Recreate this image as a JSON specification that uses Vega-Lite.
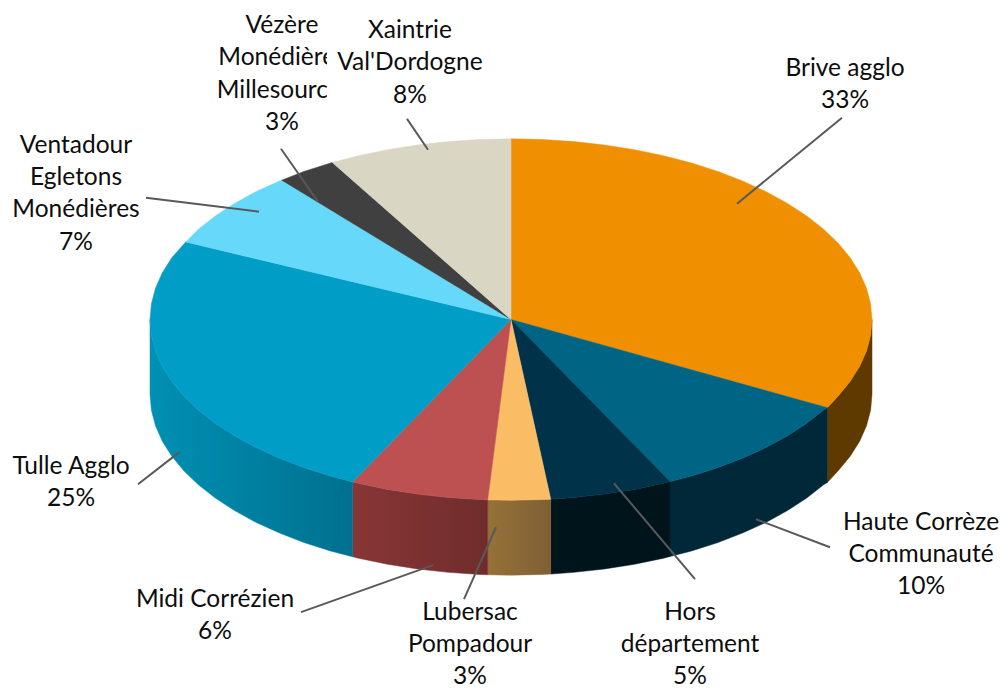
{"$schema":"https://vega.github.io/schema/vega-lite/v6.json","width":1003,"height":688,"padding":0,"autosize":{"type":"fit","contains":"padding"},"background":"white","config":{"view":{"stroke":null}},
"datasets":{
"side":[
{"s":"Brive agglo","x":872,"y":320,"y2":395},{"s":"Brive agglo","x":870.6,"y":335.8,"y2":410.8},{"s":"Brive agglo","x":866.5,"y":351.4,"y2":426.4},{"s":"Brive agglo","x":859.7,"y":366.8,"y2":441.8},{"s":"Brive agglo","x":850.2,"y":381.9,"y2":456.9},{"s":"Brive agglo","x":838.2,"y":396.5,"y2":471.5},{"s":"Brive agglo","x":827.3,"y":408.3,"y2":483.3},
{"s":"Haute","x":827.3,"y":408.3,"y2":483.3},{"s":"Haute","x":823.6,"y":410.5,"y2":485.5},{"s":"Haute","x":806.7,"y":423.8,"y2":498.8},{"s":"Haute","x":787.5,"y":436.3,"y2":511.3},{"s":"Haute","x":766.3,"y":448,"y2":523},{"s":"Haute","x":743,"y":458.6,"y2":533.6},{"s":"Haute","x":718.1,"y":468.3,"y2":543.3},{"s":"Haute","x":691.5,"y":476.8,"y2":551.8},{"s":"Haute","x":670,"y":482.3,"y2":557.3},
{"s":"Hors","x":670,"y":482.3,"y2":557.3},{"s":"Hors","x":663.6,"y":484,"y2":559},{"s":"Hors","x":634.5,"y":490.1,"y2":565.1},{"s":"Hors","x":604.4,"y":494.8,"y2":569.8},{"s":"Hors","x":573.7,"y":498.2,"y2":573.2},{"s":"Hors","x":550.7,"y":499.9,"y2":574.9},
{"s":"Lubersac","x":550.7,"y":499.9,"y2":574.9},{"s":"Lubersac","x":542.5,"y":500.3,"y2":575.3},{"s":"Lubersac","x":511,"y":501,"y2":576},{"s":"Lubersac","x":487.7,"y":500.6,"y2":575.6},
{"s":"Midi","x":487.7,"y":500.6,"y2":575.6},{"s":"Midi","x":479.5,"y":500.3,"y2":575.3},{"s":"Midi","x":448.3,"y":498.2,"y2":573.2},{"s":"Midi","x":417.6,"y":494.8,"y2":569.8},{"s":"Midi","x":387.5,"y":490.1,"y2":565.1},{"s":"Midi","x":358.4,"y":484,"y2":559},{"s":"Midi","x":352.7,"y":482.6,"y2":557.6},
{"s":"Tulle","x":352.7,"y":482.6,"y2":557.6},{"s":"Tulle","x":330.5,"y":476.8,"y2":551.8},{"s":"Tulle","x":303.9,"y":468.3,"y2":543.3},{"s":"Tulle","x":279,"y":458.6,"y2":533.6},{"s":"Tulle","x":255.7,"y":448,"y2":523},{"s":"Tulle","x":234.5,"y":436.3,"y2":511.3},{"s":"Tulle","x":215.3,"y":423.8,"y2":498.8},{"s":"Tulle","x":198.4,"y":410.5,"y2":485.5},{"s":"Tulle","x":183.8,"y":396.5,"y2":471.5},{"s":"Tulle","x":171.8,"y":381.9,"y2":456.9},{"s":"Tulle","x":162.3,"y":366.8,"y2":441.8},{"s":"Tulle","x":155.5,"y":351.4,"y2":426.4},{"s":"Tulle","x":151.4,"y":335.8,"y2":410.8},{"s":"Tulle","x":150,"y":320,"y2":395}
],
"top":[
{"s":"Brive agglo","i":0,"x":511,"y":320},{"s":"Brive agglo","i":1,"x":511,"y":139},{"s":"Brive agglo","i":2,"x":542.5,"y":139.7},{"s":"Brive agglo","i":3,"x":573.7,"y":141.8},{"s":"Brive agglo","i":4,"x":604.4,"y":145.2},{"s":"Brive agglo","i":5,"x":634.5,"y":149.9},{"s":"Brive agglo","i":6,"x":663.6,"y":156},{"s":"Brive agglo","i":7,"x":691.5,"y":163.2},{"s":"Brive agglo","i":8,"x":718.1,"y":171.7},{"s":"Brive agglo","i":9,"x":743,"y":181.4},{"s":"Brive agglo","i":10,"x":766.3,"y":192},{"s":"Brive agglo","i":11,"x":787.5,"y":203.7},{"s":"Brive agglo","i":12,"x":806.7,"y":216.2},{"s":"Brive agglo","i":13,"x":823.6,"y":229.5},{"s":"Brive agglo","i":14,"x":838.2,"y":243.5},{"s":"Brive agglo","i":15,"x":850.2,"y":258.1},{"s":"Brive agglo","i":16,"x":859.7,"y":273.2},{"s":"Brive agglo","i":17,"x":866.5,"y":288.6},{"s":"Brive agglo","i":18,"x":870.6,"y":304.2},{"s":"Brive agglo","i":19,"x":872,"y":320},{"s":"Brive agglo","i":20,"x":870.6,"y":335.8},{"s":"Brive agglo","i":21,"x":866.5,"y":351.4},{"s":"Brive agglo","i":22,"x":859.7,"y":366.8},{"s":"Brive agglo","i":23,"x":850.2,"y":381.9},{"s":"Brive agglo","i":24,"x":838.2,"y":396.5},{"s":"Brive agglo","i":25,"x":827.3,"y":408.3},
{"s":"Haute","i":0,"x":511,"y":320},{"s":"Haute","i":1,"x":827.3,"y":408.3},{"s":"Haute","i":2,"x":823.6,"y":410.5},{"s":"Haute","i":3,"x":806.7,"y":423.8},{"s":"Haute","i":4,"x":787.5,"y":436.3},{"s":"Haute","i":5,"x":766.3,"y":448},{"s":"Haute","i":6,"x":743,"y":458.6},{"s":"Haute","i":7,"x":718.1,"y":468.3},{"s":"Haute","i":8,"x":691.5,"y":476.8},{"s":"Haute","i":9,"x":670,"y":482.3},
{"s":"Hors","i":0,"x":511,"y":320},{"s":"Hors","i":1,"x":670,"y":482.3},{"s":"Hors","i":2,"x":663.6,"y":484},{"s":"Hors","i":3,"x":634.5,"y":490.1},{"s":"Hors","i":4,"x":604.4,"y":494.8},{"s":"Hors","i":5,"x":573.7,"y":498.2},{"s":"Hors","i":6,"x":550.7,"y":499.9},
{"s":"Lubersac","i":0,"x":511,"y":320},{"s":"Lubersac","i":1,"x":550.7,"y":499.9},{"s":"Lubersac","i":2,"x":542.5,"y":500.3},{"s":"Lubersac","i":3,"x":511,"y":501},{"s":"Lubersac","i":4,"x":487.7,"y":500.6},
{"s":"Midi","i":0,"x":511,"y":320},{"s":"Midi","i":1,"x":487.7,"y":500.6},{"s":"Midi","i":2,"x":479.5,"y":500.3},{"s":"Midi","i":3,"x":448.3,"y":498.2},{"s":"Midi","i":4,"x":417.6,"y":494.8},{"s":"Midi","i":5,"x":387.5,"y":490.1},{"s":"Midi","i":6,"x":358.4,"y":484},{"s":"Midi","i":7,"x":352.7,"y":482.6},
{"s":"Tulle","i":0,"x":511,"y":320},{"s":"Tulle","i":1,"x":352.7,"y":482.6},{"s":"Tulle","i":2,"x":330.5,"y":476.8},{"s":"Tulle","i":3,"x":303.9,"y":468.3},{"s":"Tulle","i":4,"x":279,"y":458.6},{"s":"Tulle","i":5,"x":255.7,"y":448},{"s":"Tulle","i":6,"x":234.5,"y":436.3},{"s":"Tulle","i":7,"x":215.3,"y":423.8},{"s":"Tulle","i":8,"x":198.4,"y":410.5},{"s":"Tulle","i":9,"x":183.8,"y":396.5},{"s":"Tulle","i":10,"x":171.8,"y":381.9},{"s":"Tulle","i":11,"x":162.3,"y":366.8},{"s":"Tulle","i":12,"x":155.5,"y":351.4},{"s":"Tulle","i":13,"x":151.4,"y":335.8},{"s":"Tulle","i":14,"x":150,"y":320},{"s":"Tulle","i":15,"x":151.4,"y":304.2},{"s":"Tulle","i":16,"x":155.5,"y":288.6},{"s":"Tulle","i":17,"x":162.3,"y":273.2},{"s":"Tulle","i":18,"x":171.8,"y":258.1},{"s":"Tulle","i":19,"x":185.7,"y":242.3},
{"s":"Ventadour","i":0,"x":511,"y":320},{"s":"Ventadour","i":1,"x":185.7,"y":242.3},{"s":"Ventadour","i":2,"x":198.4,"y":229.5},{"s":"Ventadour","i":3,"x":215.3,"y":216.2},{"s":"Ventadour","i":4,"x":234.5,"y":203.7},{"s":"Ventadour","i":5,"x":255.7,"y":192},{"s":"Ventadour","i":6,"x":279,"y":181.4},{"s":"Ventadour","i":7,"x":281.7,"y":180.4},
{"s":"Vezere","i":0,"x":511,"y":320},{"s":"Vezere","i":1,"x":281.7,"y":180.4},{"s":"Vezere","i":2,"x":303.9,"y":171.7},{"s":"Vezere","i":3,"x":332.3,"y":162.7},
{"s":"Xaintrie","i":0,"x":511,"y":320},{"s":"Xaintrie","i":1,"x":332.3,"y":162.7},{"s":"Xaintrie","i":2,"x":358.4,"y":156},{"s":"Xaintrie","i":3,"x":387.5,"y":149.9},{"s":"Xaintrie","i":4,"x":417.6,"y":145.2},{"s":"Xaintrie","i":5,"x":448.3,"y":141.8},{"s":"Xaintrie","i":6,"x":479.5,"y":139.7},{"s":"Xaintrie","i":7,"x":511,"y":139}
],
"leaders":[
{"s":"Brive agglo","x":737,"y":204,"x2":842,"y2":118},{"s":"Haute","x":756,"y":520,"x2":830,"y2":548},{"s":"Hors","x":614,"y":484,"x2":695,"y2":580},{"s":"Lubersac","x":496,"y":528,"x2":464,"y2":600},{"s":"Midi","x":433,"y":566,"x2":301,"y2":613},{"s":"Tulle","x":179,"y":453,"x2":138,"y2":485},{"s":"Ventadour","x":259,"y":212,"x2":146,"y2":198},{"s":"Vezere","x":318,"y":202,"x2":281,"y2":149},{"s":"Xaintrie","x":428,"y":150,"x2":407,"y2":119}
],
"mask":[{"x":327,"x2":365,"y":40,"y2":106}],
"labels":[
{"s":"Brive agglo","t":"Brive agglo","x":845,"y":68},{"s":"Brive agglo","t":"33%","x":845,"y":100},
{"s":"Haute","t":"Haute Corrèze","x":921,"y":522},{"s":"Haute","t":"Communauté","x":921,"y":554},{"s":"Haute","t":"10%","x":921,"y":586},
{"s":"Hors","t":"Hors","x":690,"y":612},{"s":"Hors","t":"département","x":690,"y":644},{"s":"Hors","t":"5%","x":690,"y":676},
{"s":"Lubersac","t":"Lubersac","x":470,"y":612},{"s":"Lubersac","t":"Pompadour","x":470,"y":644},{"s":"Lubersac","t":"3%","x":470,"y":676},
{"s":"Midi","t":"Midi Corrézien","x":215,"y":599},{"s":"Midi","t":"6%","x":215,"y":631},
{"s":"Tulle","t":"Tulle Agglo","x":71,"y":466},{"s":"Tulle","t":"25%","x":71,"y":498},
{"s":"Ventadour","t":"Ventadour","x":76,"y":145},{"s":"Ventadour","t":"Egletons","x":76,"y":177},{"s":"Ventadour","t":"Monédières","x":76,"y":209},{"s":"Ventadour","t":"7%","x":76,"y":242},
{"s":"Vezere","t":"Vézère","x":282,"y":25},{"s":"Vezere","t":"Monédières","x":282,"y":57},{"s":"Vezere","t":"Millesources","x":284,"y":90},{"s":"Vezere","t":"3%","x":282,"y":122},
{"s":"Xaintrie","t":"Xaintrie","x":410,"y":30},{"s":"Xaintrie","t":"Val'Dordogne","x":410,"y":62},{"s":"Xaintrie","t":"8%","x":410,"y":95}
]},
"encoding":{"x":{"field":"x","type":"quantitative","scale":{"domain":[0,1003],"nice":false,"zero":false},"axis":null},"y":{"field":"y","type":"quantitative","scale":{"domain":[688,0],"nice":false,"zero":false},"axis":null}},
"layer":[
{"data":{"name":"side"},"transform":[{"filter":"datum.s=='Brive agglo'"}],"mark":{"type":"area","fill":"#5F3A00","stroke":"#5F3A00","strokeWidth":0.5},"encoding":{"y2":{"field":"y2"}}},
{"data":{"name":"side"},"transform":[{"filter":"datum.s=='Haute'"}],"mark":{"type":"area","fill":"#012838","stroke":"#012838","strokeWidth":0.5},"encoding":{"y2":{"field":"y2"}}},
{"data":{"name":"side"},"transform":[{"filter":"datum.s=='Hors'"}],"mark":{"type":"area","fill":"#00141C","stroke":"#00141C","strokeWidth":0.5},"encoding":{"y2":{"field":"y2"}}},
{"data":{"name":"side"},"transform":[{"filter":"datum.s=='Lubersac'"}],"mark":{"type":"area","stroke":{"gradient":"linear","x1":0,"y1":0,"x2":1,"y2":0,"stops":[{"offset":0,"color":"#967238"},{"offset":1,"color":"#7F5F35"}]},"strokeWidth":0.5,"fill":{"gradient":"linear","x1":0,"y1":0,"x2":1,"y2":0,"stops":[{"offset":0,"color":"#967238"},{"offset":1,"color":"#7F5F35"}]}},"encoding":{"y2":{"field":"y2"}}},
{"data":{"name":"side"},"transform":[{"filter":"datum.s=='Midi'"}],"mark":{"type":"area","stroke":{"gradient":"linear","x1":0,"y1":0,"x2":1,"y2":0,"stops":[{"offset":0,"color":"#883636"},{"offset":1,"color":"#702C2C"}]},"strokeWidth":0.5,"fill":{"gradient":"linear","x1":0,"y1":0,"x2":1,"y2":0,"stops":[{"offset":0,"color":"#883636"},{"offset":1,"color":"#702C2C"}]}},"encoding":{"y2":{"field":"y2"}}},
{"data":{"name":"side"},"transform":[{"filter":"datum.s=='Tulle'"}],"mark":{"type":"area","stroke":{"gradient":"linear","x1":0,"y1":0,"x2":1,"y2":0,"stops":[{"offset":0,"color":"#0090B3"},{"offset":1,"color":"#00708F"}]},"strokeWidth":0.5,"fill":{"gradient":"linear","x1":0,"y1":0,"x2":1,"y2":0,"stops":[{"offset":0,"color":"#0090B3"},{"offset":1,"color":"#00708F"}]}},"encoding":{"y2":{"field":"y2"}}},
{"data":{"name":"top"},"mark":{"type":"line","interpolate":"linear-closed","strokeWidth":0.5},"encoding":{"order":{"field":"i","type":"quantitative"},"fill":{"field":"s","type":"nominal","legend":null,"scale":{"domain":["Brive agglo","Haute","Hors","Lubersac","Midi","Tulle","Ventadour","Vezere","Xaintrie"],"range":["#F09000","#006484","#003349","#FBBC66","#BD5050","#009EC7","#66D9FB","#404040","#D9D6C3"]}},"stroke":{"field":"s","type":"nominal","legend":null,"scale":{"domain":["Brive agglo","Haute","Hors","Lubersac","Midi","Tulle","Ventadour","Vezere","Xaintrie"],"range":["#F09000","#006484","#003349","#FBBC66","#BD5050","#009EC7","#66D9FB","#404040","#D9D6C3"]}}}},
{"data":{"name":"leaders"},"mark":{"type":"rule","color":"#595959","strokeWidth":2},"encoding":{"x2":{"field":"x2"},"y2":{"field":"y2"}}},
{"data":{"name":"labels"},"transform":[{"filter":"datum.s!='Xaintrie'"}],"mark":{"type":"text","font":"Lato","fontSize":24.5,"align":"center","baseline":"middle","dy":1.5,"color":"#0d0d0d"},"encoding":{"text":{"field":"t","type":"nominal"}}},
{"data":{"name":"mask"},"mark":{"type":"rect","color":"white"},"encoding":{"x2":{"field":"x2"},"y2":{"field":"y2"}}},
{"data":{"name":"labels"},"transform":[{"filter":"datum.s=='Xaintrie'"}],"mark":{"type":"text","font":"Lato","fontSize":24.5,"align":"center","baseline":"middle","dy":1.5,"color":"#0d0d0d"},"encoding":{"text":{"field":"t","type":"nominal"}}}
]}
